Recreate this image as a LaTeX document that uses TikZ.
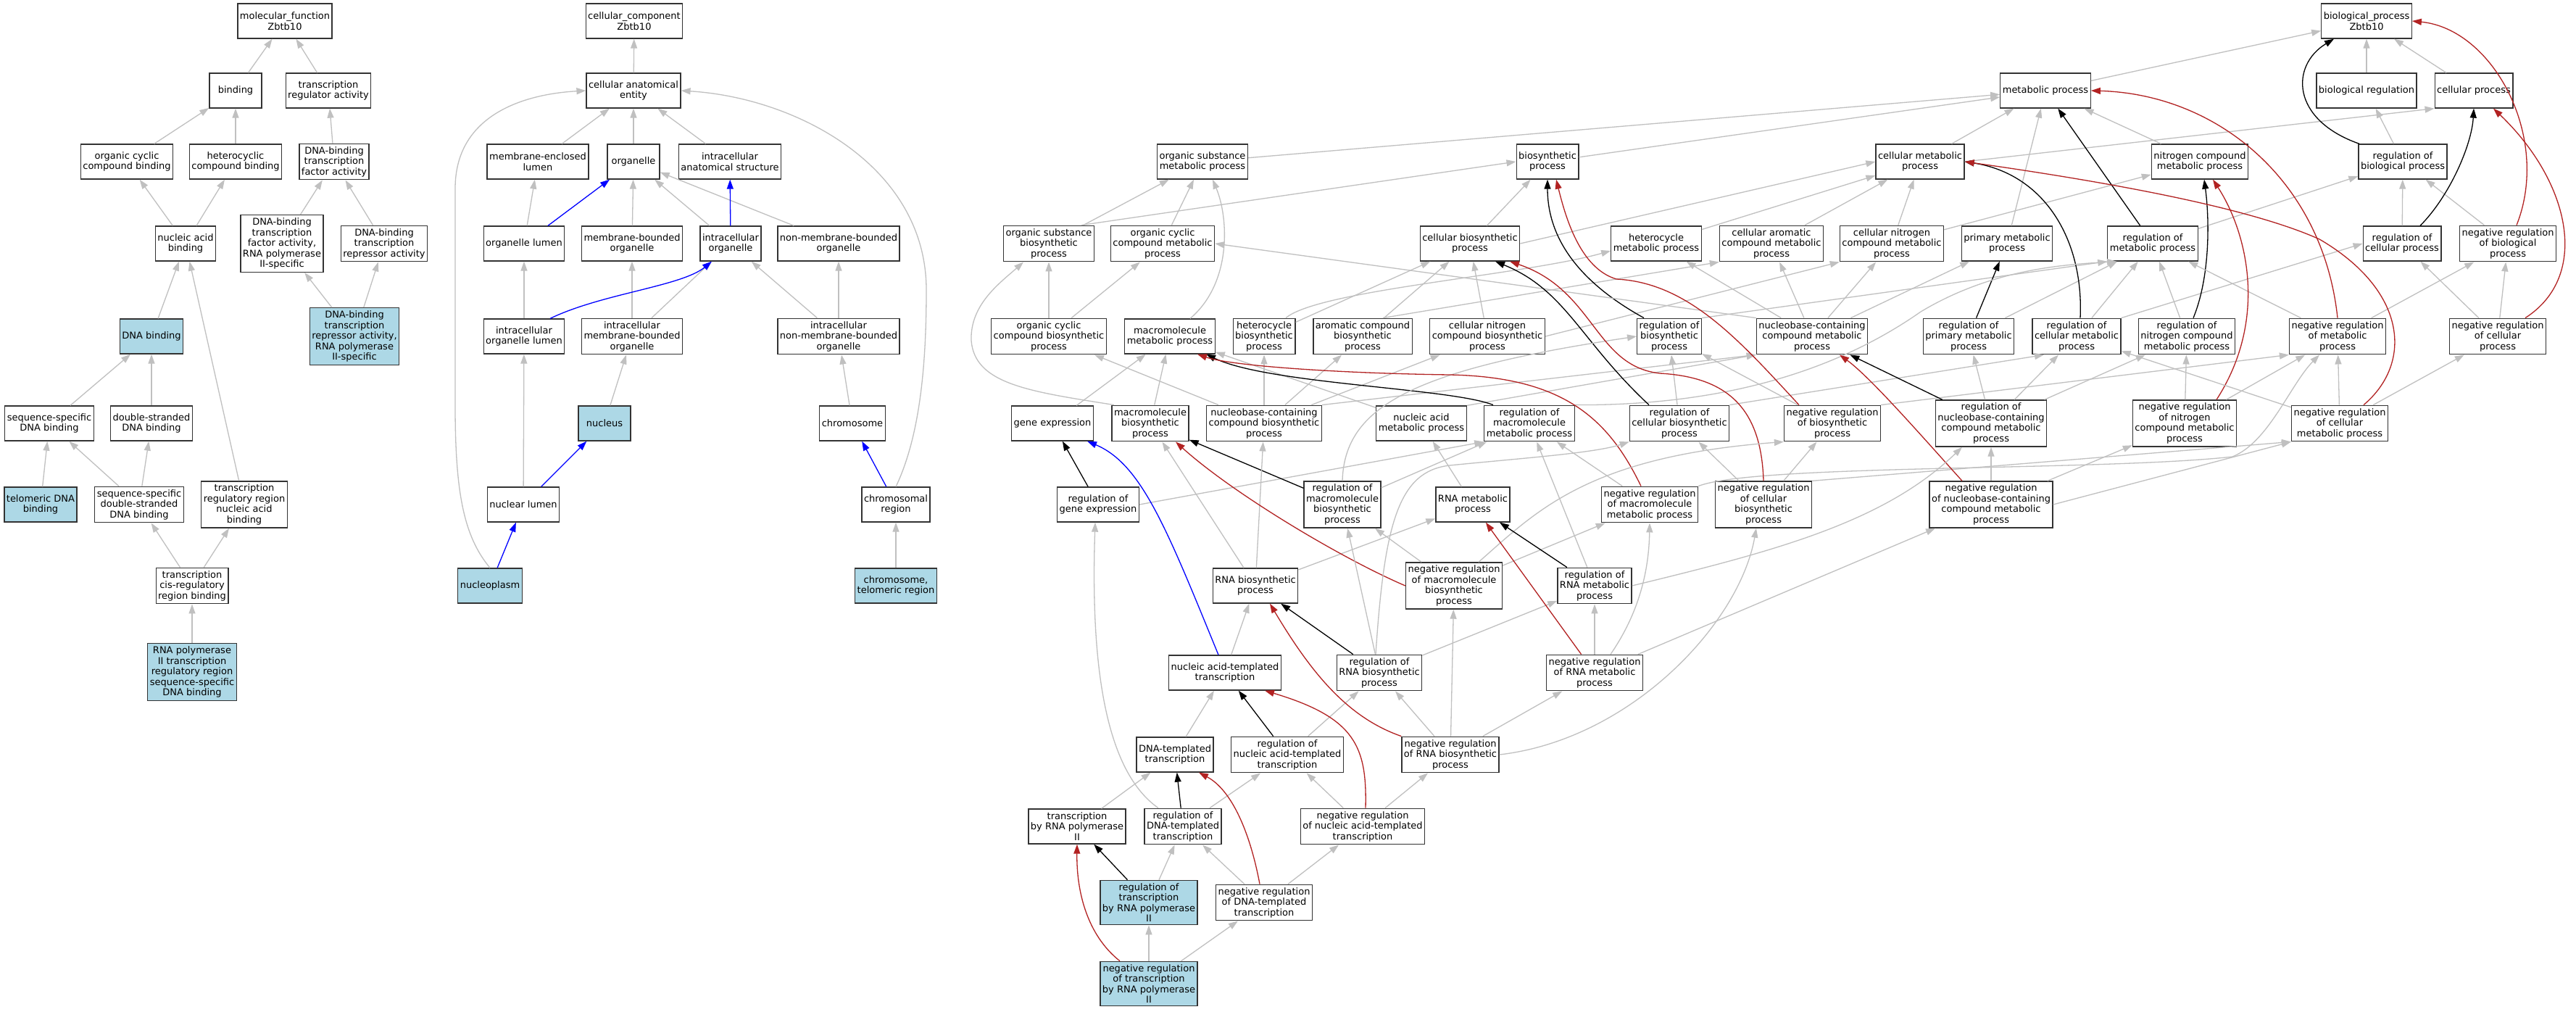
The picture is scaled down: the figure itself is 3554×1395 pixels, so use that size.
\documentclass[tikz,border=0pt]{standalone}
\usepackage{fontspec}
\setmainfont{DejaVu Sans}
\usetikzlibrary{arrows.meta}
\definecolor{hitblue}{HTML}{ADD8E6}
\definecolor{isagray}{HTML}{C0C0C0}
\definecolor{negred}{HTML}{B22222}
\tikzset{
  term/.style={draw=black!80, line width=1.3pt, fill=white, minimum width=72pt, minimum height=48pt,
    inner xsep=3pt, inner ysep=4pt, align=center, font=\fontsize{13}{14.5}\selectfont},
  hit/.style={term, fill=hitblue},
  isa/.style={draw=isagray, line width=1.3pt, -{Triangle[length=13pt,width=9pt]}},
  regs/.style={isa, draw=black},
  negregs/.style={isa, draw=negred},
  partof/.style={isa, draw=blue}
}
\begin{document}
\begin{tikzpicture}[x=1pt,y=-1pt]
  \path[fill=white, use as bounding box] (0,0) rectangle (3554,1395);

  \node[term] (mf) at (393,29) {molecular\_function\\Zbtb10};
  \node[term] (binding) at (325,125) {binding};
  \node[term] (trreg) at (453,125) {transcription\\regulator activity};
  \node[term] (occb) at (175,223) {organic cyclic\\compound binding};
  \node[term] (hcb) at (325,223) {heterocyclic\\compound binding};
  \node[term] (dbtfa) at (461,223) {DNA-binding\\transcription\\factor activity};
  \node[term] (nab) at (256,336) {nucleic acid\\binding};
  \node[term] (dbtfa2) at (389,336) {DNA-binding\\transcription\\factor activity,\\RNA polymerase\\II-specific};
  \node[term] (dbtra) at (530,336) {DNA-binding\\transcription\\repressor activity};
  \node[hit] (dnab) at (209,464) {DNA binding};
  \node[hit] (dbtra2) at (489,464) {DNA-binding\\transcription\\repressor activity,\\RNA polymerase\\II-specific};
  \node[term] (ssdb) at (68,584) {sequence-specific\\DNA binding};
  \node[term] (dsdb) at (209,584) {double-stranded\\DNA binding};
  \node[hit] (teldb) at (56,696) {telomeric DNA\\binding};
  \node[term] (ssdsdb) at (192,696) {sequence-specific\\double-stranded\\DNA binding};
  \node[term] (trrnab) at (337,696) {transcription\\regulatory region\\nucleic acid\\binding};
  \node[term] (tcrrb) at (265,808) {transcription\\cis-regulatory\\region binding};
  \node[hit] (rnapii) at (265,927) {RNA polymerase\\II transcription\\regulatory region\\sequence-specific\\DNA binding};

  \draw[isa] (binding) -- (mf); \draw[isa] (trreg) -- (mf);
  \draw[isa] (occb) -- (binding); \draw[isa] (hcb) -- (binding); \draw[isa] (dbtfa) -- (trreg);
  \draw[isa] (nab) -- (occb); \draw[isa] (nab) -- (hcb); \draw[isa] (dbtfa2) -- (dbtfa); \draw[isa] (dbtra) -- (dbtfa);
  \draw[isa] (dnab) -- (nab); \draw[isa] (trrnab) -- (nab); \draw[isa] (dbtra2) -- (dbtfa2); \draw[isa] (dbtra2) -- (dbtra);
  \draw[isa] (ssdb) -- (dnab); \draw[isa] (dsdb) -- (dnab);
  \draw[isa] (teldb) -- (ssdb); \draw[isa] (ssdsdb) -- (ssdb); \draw[isa] (ssdsdb) -- (dsdb);
  \draw[isa] (tcrrb) -- (ssdsdb); \draw[isa] (tcrrb) -- (trrnab); \draw[isa] (rnapii) -- (tcrrb);

  \node[term] (cc) at (875,29) {cellular\_component\\Zbtb10};
  \node[term] (cae) at (874,125) {cellular anatomical\\entity};
  \node[term] (mel) at (742,223) {membrane-enclosed\\lumen};
  \node[term] (org) at (874,223) {organelle};
  \node[term] (ias) at (1007,223) {intracellular\\anatomical structure};
  \node[term] (ol) at (723,336) {organelle lumen};
  \node[term] (mbo) at (872,336) {membrane-bounded\\organelle};
  \node[term] (io) at (1008,336) {intracellular\\organelle};
  \node[term] (nmbo) at (1157,336) {non-membrane-bounded\\organelle};
  \node[term] (iol) at (723,464) {intracellular\\organelle lumen};
  \node[term] (imbo) at (872,464) {intracellular\\membrane-bounded\\organelle};
  \node[term] (inmbo) at (1157,464) {intracellular\\non-membrane-bounded\\organelle};
  \node[hit] (nucleus) at (834,584) {nucleus};
  \node[term] (chromosome) at (1176,584) {chromosome};
  \node[term] (nl) at (722,696) {nuclear lumen};
  \node[term] (chr) at (1236,696) {chromosomal\\region};
  \node[hit] (nucleoplasm) at (676,808) {nucleoplasm};
  \node[hit] (telreg) at (1236,808) {chromosome,\\telomeric region};

  \draw[isa] (cae) -- (cc);
  \draw[isa] (mel) -- (cae); \draw[isa] (org) -- (cae); \draw[isa] (ias) -- (cae);
  \draw[isa] (ol) -- (mel); \draw[partof] (ol) -- (org); \draw[isa] (mbo) -- (org); \draw[isa] (io) -- (org);
  \draw[isa] (nmbo) -- (org); \draw[partof] (io) -- (ias);
  \draw[isa] (iol) -- (ol); \draw[isa] (imbo) -- (mbo); \draw[isa] (imbo) -- (io); \draw[isa] (inmbo) -- (io);
  \draw[isa] (inmbo) -- (nmbo);
  \draw[partof] ([xshift=36pt]iol.north) .. controls (830,405) and (940,395) .. ([xshift=-26pt]io.south);
  \draw[isa] (nucleus) -- (imbo); \draw[isa] (chromosome) -- (inmbo);
  \draw[isa] (nl) -- (iol); \draw[partof] (nl) -- (nucleus); \draw[partof] (chr) -- (chromosome);
  \draw[partof] (nucleoplasm) -- (nl); \draw[isa] (telreg) -- (chr);
  \draw[isa] (nucleoplasm.north) .. controls (640,740) and (628,680) .. (628,560) -- (628,260)
    .. controls (628,160) and (720,130) .. (cae.west);
  \draw[isa] (chr.north) .. controls (1270,600) and (1278,500) .. (1278,400)
    .. controls (1278,230) and (1100,135) .. (cae.east);

  \node[term] (bp) at (3265,29) {biological\_process\\Zbtb10};
  \node[term] (breg) at (3265,125) {biological regulation};
  \node[term] (cp) at (3413,125) {cellular process};
  \node[term] (mp) at (2822,125) {metabolic process};
  \node[term] (osmp) at (1659,223) {organic substance\\metabolic process};
  \node[term] (bsp) at (2135,223) {biosynthetic\\process};
  \node[term] (cmp) at (2649,223) {cellular metabolic\\process};
  \node[term] (ncmp) at (3035,223) {nitrogen compound\\metabolic process};
  \node[term] (rbp) at (3315,223) {regulation of\\biological process};
  \node[term] (osbsp) at (1447,336) {organic substance\\biosynthetic\\process};
  \node[term] (occmp) at (1604,336) {organic cyclic\\compound metabolic\\process};
  \node[term] (cbsp) at (2028,336) {cellular biosynthetic\\process};
  \node[term] (hmp) at (2285,336) {heterocycle\\metabolic process};
  \node[term] (camp) at (2444,336) {cellular aromatic\\compound metabolic\\process};
  \node[term] (cncmp) at (2610,336) {cellular nitrogen\\compound metabolic\\process};
  \node[term] (pmp) at (2769,336) {primary metabolic\\process};
  \node[term] (rmp) at (2970,336) {regulation of\\metabolic process};
  \node[term] (rcp) at (3314,336) {regulation of\\cellular process};
  \node[term] (nrbp) at (3460,336) {negative regulation\\of biological\\process};
  \node[term] (occbsp) at (1447,464) {organic cyclic\\compound biosynthetic\\process};
  \node[term] (mmp) at (1614,464) {macromolecule\\metabolic process};
  \node[term] (hetcbsp) at (1744,464) {heterocycle\\biosynthetic\\process};
  \node[term] (acbsp) at (1880,464) {aromatic compound\\biosynthetic\\process};
  \node[term] (cncbsp) at (2052,464) {cellular nitrogen\\compound biosynthetic\\process};
  \node[term] (rbsp) at (2303,464) {regulation of\\biosynthetic\\process};
  \node[term] (nccmp) at (2500,464) {nucleobase-containing\\compound metabolic\\process};
  \node[term] (rpmp) at (2716,464) {regulation of\\primary metabolic\\process};
  \node[term] (rcmp) at (2865,464) {regulation of\\cellular metabolic\\process};
  \node[term] (rncmp) at (3017,464) {regulation of\\nitrogen compound\\metabolic process};
  \node[term] (nrmp) at (3225,464) {negative regulation\\of metabolic\\process};
  \node[term] (nrcp) at (3446,464) {negative regulation\\of cellular\\process};
  \node[term] (ge) at (1452,584) {gene expression};
  \node[term] (mbsp) at (1587,584) {macromolecule\\biosynthetic\\process};
  \node[term] (ncbsp) at (1744,584) {nucleobase-containing\\compound biosynthetic\\process};
  \node[term] (nametp) at (1961,584) {nucleic acid\\metabolic process};
  \node[term] (rmmp) at (2110,584) {regulation of\\macromolecule\\metabolic process};
  \node[term] (rcbsp) at (2317,584) {regulation of\\cellular biosynthetic\\process};
  \node[term] (nrbsp) at (2528,584) {negative regulation\\of biosynthetic\\process};
  \node[term] (rnccmp) at (2747,584) {regulation of\\nucleobase-containing\\compound metabolic\\process};
  \node[term] (nrncmp) at (3014,584) {negative regulation\\of nitrogen\\compound metabolic\\process};
  \node[term] (nrcmp) at (3228,584) {negative regulation\\of cellular\\metabolic process};
  \node[term] (rge) at (1515,696) {regulation of\\gene expression};
  \node[term] (rmbsp) at (1852,696) {regulation of\\macromolecule\\biosynthetic\\process};
  \node[term] (rnamp) at (2032,696) {RNA metabolic\\process};
  \node[term] (nrmmp) at (2276,696) {negative regulation\\of macromolecule\\metabolic process};
  \node[term] (nrcbsp) at (2433,696) {negative regulation\\of cellular\\biosynthetic\\process};
  \node[term] (nrnccmp) at (2747,696) {negative regulation\\of nucleobase-containing\\compound metabolic\\process};
  \node[term] (rnabsp) at (1732,808) {RNA biosynthetic\\process};
  \node[term] (nrmbsp) at (2006,808) {negative regulation\\of macromolecule\\biosynthetic\\process};
  \node[term] (rrnamp) at (2200,808) {regulation of\\RNA metabolic\\process};
  \node[term] (natt) at (1690,928) {nucleic acid-templated\\transcription};
  \node[term] (rrnabsp) at (1903,928) {regulation of\\RNA biosynthetic\\process};
  \node[term] (nrrnamp) at (2200,928) {negative regulation\\of RNA metabolic\\process};
  \node[term] (dtt) at (1621,1041) {DNA-templated\\transcription};
  \node[term] (rnatt) at (1776,1041) {regulation of\\nucleic acid-templated\\transcription};
  \node[term] (nrrnabsp) at (2001,1041) {negative regulation\\of RNA biosynthetic\\process};
  \node[term] (trpii) at (1486,1140) {transcription\\by RNA polymerase\\II};
  \node[term] (rdtt) at (1632,1140) {regulation of\\DNA-templated\\transcription};
  \node[term] (nrnatt) at (1880,1140) {negative regulation\\of nucleic acid-templated\\transcription};
  \node[hit] (rtrpii) at (1585,1245) {regulation of\\transcription\\by RNA polymerase\\II};
  \node[term] (nrdtt) at (1744,1245) {negative regulation\\of DNA-templated\\transcription};
  \node[hit] (nrtrpii) at (1585,1357) {negative regulation\\of transcription\\by RNA polymerase\\II};

  \draw[isa] (breg) -- (bp); \draw[isa] (cp) -- (bp); \draw[isa] (mp) -- (bp);
  \draw[isa] (osmp) -- (mp); \draw[isa] (bsp) -- (mp); \draw[isa] (cmp) -- (mp); \draw[isa] (cmp.east) -- (cp.south west);
  \draw[isa] (ncmp) -- (mp); \draw[isa] (rbp) -- (breg);
  \draw[regs] ([xshift=-60pt]rbp.north) .. controls (3160,165) and (3160,90) .. ([xshift=-45pt]bp.south);
  \draw[isa] (osbsp) -- (osmp); \draw[isa] ([xshift=45pt]osbsp.north) -- (bsp.west); \draw[isa] (occmp) -- (osmp);
  \draw[isa] (cbsp) -- (bsp); \draw[isa] (cbsp.east) -- (cmp.west); \draw[isa] (hmp) -- (cmp); \draw[isa] (camp) -- (cmp);
  \draw[isa] (cncmp) -- (cmp); \draw[isa] (cncmp) -- (ncmp); \draw[isa] (pmp) -- (mp);
  \draw[regs] (rmp) -- (mp); \draw[isa] (rmp) -- (rbp); \draw[isa] (rcp) -- (rbp); \draw[isa] (nrbp) -- (rbp);
  \draw[regs] ([xshift=25pt]rcp.north) .. controls (3380,270) and (3410,200) .. (cp.south);
  \draw[negregs] ([xshift=12pt]nrbp.north) .. controls (3520,190) and (3440,40) .. (bp.east);
  \draw[isa] (occbsp) -- (osbsp); \draw[isa] (occbsp) -- (occmp);
  \draw[isa] ([xshift=28pt]mmp.north) .. controls (1700,390) and (1695,300) .. ([xshift=14pt]osmp.south);
  \draw[isa] (hetcbsp) -- (cbsp);
  \draw[isa] ([xshift=30pt]hetcbsp.north) .. controls (1820,400) and (2100,380) .. ([yshift=-10pt]hmp.west);
  \draw[isa] ([xshift=28pt]acbsp.north) -- (camp.south west); \draw[isa] (acbsp) -- (cbsp);
  \draw[isa] (cncbsp) -- (cbsp); \draw[isa] (cncbsp.east) -- (cncmp.south west);
  \draw[isa] (rbsp.north east) -- (rmp.south west);
  \draw[regs] ([xshift=-35pt]rbsp.north) .. controls (2180,390) and (2135,330) .. (bsp.south);
  \draw[isa] (nccmp) -- (hmp); \draw[isa] (nccmp) -- (camp); \draw[isa] (nccmp) -- (cncmp); \draw[isa] (nccmp) -- (pmp);
  \draw[isa] (nccmp.north west) -- (occmp.east);
  \draw[regs] (rpmp) -- (pmp); \draw[isa] (rpmp) -- (rmp); \draw[isa] (rcmp) -- (rmp); \draw[isa] (rcmp.north east) -- (rcp.west);
  \draw[regs] ([xshift=5pt]rcmp.north) .. controls (2875,330) and (2820,240) .. (cmp.east);
  \draw[isa] (rncmp) -- (rmp);
  \draw[regs] ([xshift=9pt]rncmp.north) .. controls (3050,380) and (3048,300) .. ([xshift=6pt]ncmp.south);
  \draw[isa] (nrmp) -- (rmp); \draw[isa] (nrmp) -- (nrbp);
  \draw[negregs] (nrmp.north) .. controls (3205,250) and (3060,130) .. (mp.east);
  \draw[isa] (nrcp) -- (nrbp); \draw[isa] (nrcp) -- (rcp);
  \draw[negregs] ([xshift=38pt]nrcp.north) .. controls (3575,380) and (3545,250) .. ([xshift=27pt]cp.south);

  \draw[isa] (ge) -- (mmp); \draw[isa] (mbsp) -- (mmp);
  \draw[isa] ([xshift=-50pt]mbsp.north) .. controls (1420,540) and (1345,530) .. (1340,470)
    .. controls (1338,420) and (1380,390) .. ([xshift=-35pt]osbsp.south);
  \draw[isa] (ncbsp.north east) -- (nccmp.south west); \draw[isa] (ncbsp) -- (hetcbsp); \draw[isa] (ncbsp) -- (acbsp);
  \draw[isa] (ncbsp) -- (occbsp); \draw[isa] (ncbsp) -- (cncbsp);
  \draw[isa] (nametp.north east) -- (nccmp.south west); \draw[isa] (nametp) -- (mmp);
  \draw[isa] (rmmp.north east) .. controls (2400,560) and (2550,500) .. (2650,430)
    .. controls (2750,370) and (2850,365) .. ([xshift=-50pt]rmp.south);
  \draw[regs] ([xshift=-50pt]rmmp.north) .. controls (2000,535) and (1750,530) .. ([xshift=50pt]mmp.south);
  \draw[isa] (rcbsp) -- (rbsp); \draw[isa] (rcbsp.north east) -- ([xshift=-45pt]rcmp.south);
  \draw[regs] ([xshift=-42pt]rcbsp.north) .. controls (2180,470) and (2160,400) .. ([xshift=35pt]cbsp.south);
  \draw[isa] (nrbsp) -- (rbsp); \draw[isa] (nrbsp.north east) -- (nrmp.south west);
  \draw[negregs] ([xshift=-46pt]nrbsp.north) .. controls (2400,470) and (2330,390) .. (2230,385)
    .. controls (2180,370) and (2160,300) .. ([xshift=12pt]bsp.south);
  \draw[regs] (rnccmp) -- (nccmp); \draw[isa] (rnccmp) -- (rpmp); \draw[isa] (rnccmp) -- (rcmp); \draw[isa] (rnccmp) -- (rncmp);
  \draw[isa] (nrncmp) -- (rncmp); \draw[isa] (nrncmp) -- (nrmp);
  \draw[negregs] ([xshift=44pt]nrncmp.north) .. controls (3130,440) and (3100,320) .. ([xshift=18pt]ncmp.south);
  \draw[isa] (nrcmp) -- (rcmp); \draw[isa] (nrcmp) -- (nrmp); \draw[isa] (nrcmp) -- (nrcp);
  \draw[negregs] ([xshift=33pt]nrcmp.north) .. controls (3330,500) and (3320,400) .. (3200,330)
    .. controls (3100,285) and (2900,250) .. (cmp.east);

  \draw[regs] (rge) -- (ge); \draw[isa] (rge.east) -- (rmmp.south west);
  \draw[regs] (rmbsp) -- (mbsp); \draw[isa] (rmbsp) -- (rmmp);
  \draw[isa] (rmbsp.north) .. controls (1855,560) and (1950,510) .. (rbsp.west);
  \draw[isa] (rnamp) -- (nametp);
  \draw[isa] (nrmmp) -- (rmmp);
  \draw[isa] (nrmmp.north east) .. controls (2420,640) and (2900,650) .. (3080,630)
    .. controls (3130,610) and (3160,530) .. ([xshift=-25pt]nrmp.south);
  \draw[negregs] ([xshift=-12pt]nrmmp.north) .. controls (2220,580) and (2160,520) .. (2000,517)
    .. controls (1850,515) and (1700,505) .. ([xshift=38pt]mmp.south);
  \draw[isa] (nrcbsp) -- (rcbsp); \draw[isa] (nrcbsp) -- (nrbsp); \draw[isa] (nrcbsp.north east) -- (nrcmp.south west);
  \draw[negregs] (nrcbsp.north) .. controls (2430,560) and (2380,520) .. (2290,515)
    .. controls (2200,505) and (2200,400) .. ([xshift=55pt]cbsp.south);
  \draw[isa] (nrnccmp) -- (rnccmp); \draw[isa] (nrnccmp) -- (nrncmp); \draw[isa] (nrnccmp.east) -- (nrcmp.south west);
  \draw[negregs] ([xshift=-40pt]nrnccmp.north) .. controls (2650,600) and (2580,520) .. ([xshift=38pt]nccmp.south);

  \draw[isa] (rnabsp) -- (rnamp); \draw[isa] (rnabsp) -- (mbsp); \draw[isa] (rnabsp) -- (ncbsp);
  \draw[isa] (nrmbsp) -- (rmbsp); \draw[isa] (nrmbsp) -- (nrmmp);
  \draw[isa] ([xshift=34pt]nrmbsp.north) .. controls (2120,705) and (2190,630) .. (nrbsp.south west);
  \draw[negregs] (nrmbsp.west) .. controls (1850,770) and (1700,680) .. ([xshift=35pt]mbsp.south);
  \draw[regs] (rrnamp) -- (rnamp); \draw[isa] (rrnamp) -- (rmmp);
  \draw[isa] (rrnamp.east) .. controls (2450,760) and (2600,720) .. ([xshift=-40pt]rnccmp.south);
  \draw[isa] (natt) -- (rnabsp);
  \draw[partof] ([xshift=-9pt]natt.north) .. controls (1610,730) and (1575,640) .. ([xshift=48pt]ge.south);
  \draw[regs] (rrnabsp) -- (rnabsp); \draw[isa] (rrnabsp) -- (rmbsp); \draw[isa] (rrnabsp) -- (rrnamp);
  \draw[isa] ([xshift=-5pt]rrnabsp.north) .. controls (1910,720) and (1930,650) .. (2000,642)
    .. controls (2100,632) and (2200,625) .. (rcbsp.south west);
  \draw[isa] (nrrnamp) -- (rrnamp); \draw[negregs] (nrrnamp) -- (rnamp); \draw[isa] (nrrnamp) -- (nrnccmp);
  \draw[isa] ([xshift=22pt]nrrnamp.north) .. controls (2265,840) and (2275,780) .. (nrmmp.south);

  \draw[isa] (dtt) -- (natt); \draw[regs] (rnatt) -- (natt); \draw[isa] (rnatt) -- (rrnabsp);
  \draw[isa] (nrrnabsp) -- (rrnabsp); \draw[isa] (nrrnabsp) -- (nrmbsp); \draw[isa] (nrrnabsp) -- (nrrnamp);
  \draw[negregs] (nrrnabsp.north west) .. controls (1860,990) and (1810,930) .. ([xshift=20pt]rnabsp.south);
  \draw[isa] (nrrnabsp.east) .. controls (2250,1020) and (2400,860) .. ([xshift=-10pt]nrcbsp.south);
  \draw[isa] (trpii) -- (dtt); \draw[regs] (rdtt) -- (dtt); \draw[isa] (rdtt) -- (rnatt);
  \draw[isa] ([xshift=-34pt]rdtt.north) .. controls (1520,1060) and (1505,900) .. ([xshift=-4pt]rge.south);
  \draw[isa] (nrnatt) -- (rnatt); \draw[isa] (nrnatt) -- (nrrnabsp);
  \draw[negregs] ([xshift=4pt]nrnatt.north) .. controls (1886,1030) and (1870,990) .. ([xshift=55pt]natt.south);
  \draw[regs] (rtrpii) -- (trpii); \draw[isa] (rtrpii) -- (rdtt);
  \draw[isa] (nrdtt) -- (rdtt); \draw[isa] (nrdtt) -- (nrnatt);
  \draw[negregs] ([xshift=-6pt]nrdtt.north) .. controls (1725,1150) and (1700,1090) .. ([xshift=33pt]dtt.south);
  \draw[isa] (nrtrpii) -- (rtrpii); \draw[isa] (nrtrpii) -- (nrdtt);
  \draw[negregs] ([xshift=-40pt]nrtrpii.north) .. controls (1500,1290) and (1485,1230) .. (trpii.south);
\end{tikzpicture}
\end{document}
